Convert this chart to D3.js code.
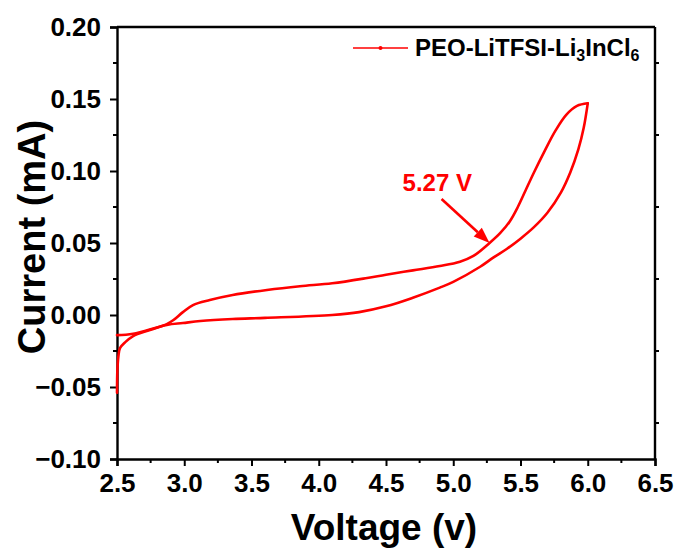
<!DOCTYPE html>
<html>
<head>
<meta charset="utf-8">
<script src="https://cdn.jsdelivr.net/npm/d3@7"></script>
<style>
  html, body { margin: 0; padding: 0; background: #fff; }
  svg { display: block; font-family: "Liberation Sans", Arial, sans-serif; font-weight: bold; }
</style>
</head>
<body>
<svg id="chart" width="678" height="549"></svg>
<script>
// Anodic sweep: 2.5 V up to 6.0 V
const voltForward = [2.5, 2.503, 2.51, 2.522, 2.56, 2.62, 2.745, 2.87, 2.92, 2.99, 3.065, 3.19, 3.36, 3.615, 3.86, 4.1, 4.36, 4.5, 4.7, 4.9, 5.05, 5.15, 5.27, 5.35, 5.42, 5.48, 5.54, 5.60, 5.68, 5.76, 5.84, 5.92, 6.0];
const currForward = [-0.054, -0.038, -0.029, -0.023, -0.019, -0.0146, -0.0104, -0.0063, -0.0035, 0.002, 0.0069, 0.0104, 0.0139, 0.0174, 0.020, 0.022, 0.0257, 0.028, 0.031, 0.034, 0.037, 0.041, 0.050, 0.057, 0.065, 0.075, 0.087, 0.099, 0.114, 0.128, 0.139, 0.1452, 0.147];
// Return sweep: 6.0 V back to 2.5 V
const voltReverse = [6.0, 5.97, 5.93, 5.87, 5.8, 5.7, 5.6, 5.5, 5.4, 5.3, 5.2, 5.0, 4.9, 4.7, 4.5, 4.3, 4.1, 3.6, 3.36, 3.12, 2.99, 2.87, 2.62, 2.5];
const currReverse = [0.147, 0.130, 0.115, 0.099, 0.085, 0.071, 0.061, 0.053, 0.046, 0.040, 0.0335, 0.023, 0.019, 0.012, 0.006, 0.002, 0.0, -0.002, -0.0028, -0.0042, -0.0056, -0.0069, -0.013, -0.014];

const xTicks = [2.5, 3.0, 3.5, 4.0, 4.5, 5.0, 5.5, 6.0, 6.5];
const yTicks = [-0.10, -0.05, 0.00, 0.05, 0.10, 0.15, 0.20];
const xMinor = [2.75, 3.25, 3.75, 4.25, 4.75, 5.25, 5.75, 6.25];
const yMinor = [-0.075, -0.025, 0.025, 0.075, 0.125, 0.175];

const seriesName = "PEO-LiTFSI-Li";
const onsetVoltage = 5.27;
const onsetCurrent = 0.050;

const W = 678, H = 549;
const margin = { left: 117, right: 23, top: 27, bottom: 90 };
const red = "#ff0000";

const svg = d3.select("#chart");
const x = d3.scaleLinear().domain([2.5, 6.5]).range([margin.left, W - margin.right]);
const y = d3.scaleLinear().domain([-0.10, 0.20]).range([H - margin.bottom, margin.top]);

const fmtX = d3.format(".1f");
const fmtY = v => (v < 0 ? "\u2212" : "") + d3.format(".2f")(Math.abs(v));

// Bottom axis
const gx = svg.append("g").attr("transform", `translate(0,${H - margin.bottom})`)
  .call(d3.axisBottom(x).tickValues(xTicks).tickFormat(fmtX).tickSize(7).tickPadding(8));
gx.append("g").selectAll("line").data(xMinor).join("line")
  .attr("x1", d => x(d)).attr("x2", d => x(d)).attr("y1", 0).attr("y2", 4)
  .attr("stroke", "#000").attr("stroke-width", 2);

// Left axis
const gy = svg.append("g").attr("transform", `translate(${margin.left},0)`)
  .call(d3.axisLeft(y).tickValues(yTicks).tickFormat(fmtY).tickSize(7).tickPadding(9));
gy.append("g").selectAll("line").data(yMinor).join("line")
  .attr("y1", d => y(d)).attr("y2", d => y(d)).attr("x1", 0).attr("x2", -4)
  .attr("stroke", "#000").attr("stroke-width", 2);

[gx, gy].forEach(g => {
  g.select(".domain").attr("stroke", "#000").attr("stroke-width", 2.4);
  g.selectAll(".tick line").attr("stroke", "#000").attr("stroke-width", 2);
  g.selectAll(".tick text").attr("fill", "#000").attr("font-size", 26)
    .attr("font-family", "'Liberation Sans', Arial, sans-serif").attr("font-weight", "bold");
});

// Top and right frame lines
svg.append("line").attr("x1", x(2.5)).attr("x2", x(6.5)).attr("y1", y(0.20)).attr("y2", y(0.20))
  .attr("stroke", "#000").attr("stroke-width", 2.4);
svg.append("line").attr("x1", x(6.5)).attr("x2", x(6.5)).attr("y1", y(0.20)).attr("y2", y(-0.10))
  .attr("stroke", "#000").attr("stroke-width", 2.4);
svg.append("g").selectAll("line").data(yMinor).join("line")
  .attr("x1", x(6.5)).attr("x2", x(6.5) + 4).attr("y1", d => y(d)).attr("y2", d => y(d))
  .attr("stroke", "#000").attr("stroke-width", 2);

// Axis titles
svg.append("text").attr("x", (x(2.5) + x(6.5)) / 2 - 2).attr("y", 540)
  .attr("text-anchor", "middle").attr("font-size", 37).attr("fill", "#000").text("Voltage (v)");
svg.append("text").attr("transform", `translate(45,${(y(0.20) + y(-0.10)) / 2 - 6}) rotate(-90)`)
  .attr("text-anchor", "middle").attr("font-size", 38).attr("fill", "#000").text("Current (mA)");

// CV loop
const line = d3.line().x(d => x(d[0])).y(d => y(d[1])).curve(d3.curveCatmullRom.alpha(0.5));
const fwd = voltForward.map((v, i) => [v, currForward[i]]);
const rev = voltReverse.map((v, i) => [v, currReverse[i]]);
[fwd, rev].forEach(pts => {
  svg.append("path").datum(pts).attr("d", line)
    .attr("fill", "none").attr("stroke", red).attr("stroke-width", 2.6)
    .attr("stroke-linejoin", "round").attr("stroke-linecap", "round");
});

// Onset annotation with arrow
const tipX = x(onsetVoltage), tipY = y(onsetCurrent);
const tailX = tipX - 48, tailY = tipY - 44;
const ang = Math.atan2(tipY - tailY, tipX - tailX);
const headLen = 16, headHalf = 6;
const baseX = tipX - headLen * Math.cos(ang), baseY = tipY - headLen * Math.sin(ang);
svg.append("line").attr("x1", tailX).attr("y1", tailY).attr("x2", baseX).attr("y2", baseY)
  .attr("stroke", red).attr("stroke-width", 2.6);
svg.append("polygon").attr("fill", red).attr("points", [
  [tipX, tipY],
  [baseX + headHalf * Math.sin(ang), baseY - headHalf * Math.cos(ang)],
  [baseX - headHalf * Math.sin(ang), baseY + headHalf * Math.cos(ang)]
].map(p => p.join(",")).join(" "));
svg.append("text").attr("x", tailX - 39).attr("y", tailY - 8)
  .attr("font-size", 24).attr("fill", red).text(`${onsetVoltage} V`);

// Legend
const lg = svg.append("g");
lg.append("line").attr("x1", 353).attr("x2", 408).attr("y1", 48).attr("y2", 48)
  .attr("stroke", red).attr("stroke-width", 1.6);
lg.append("circle").attr("cx", 380.5).attr("cy", 48).attr("r", 2).attr("fill", red);
const lt = lg.append("text").attr("x", 415).attr("y", 56).attr("font-size", 24).attr("fill", "#000");
lt.append("tspan").text(seriesName);
lt.append("tspan").attr("font-size", 16).attr("dy", 5).text("3");
lt.append("tspan").attr("dy", -5).text("InCl");
lt.append("tspan").attr("font-size", 16).attr("dy", 5).text("6");
</script>
</body>
</html>
